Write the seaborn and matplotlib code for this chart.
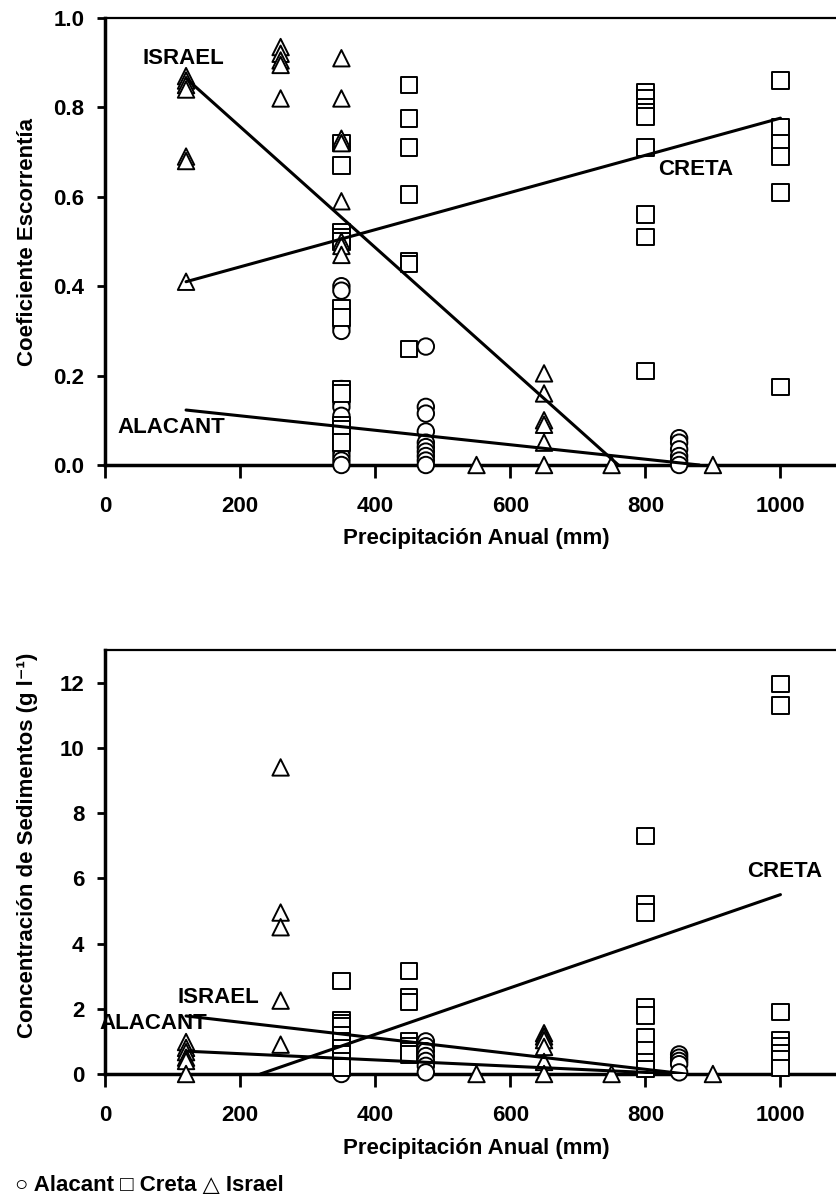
import numpy as np
import pandas as pd
import matplotlib
matplotlib.use('Agg')
import matplotlib.pyplot as plt
import seaborn as sns

# --- Coeficiente de escorrentia (grafico superior) ---
esc_alacant_p = [350, 475, 850]
esc_alacant_v = [
    [0.40, 0.39, 0.31, 0.30, 0.17, 0.16, 0.14, 0.13, 0.11, 0.08, 0.07, 0.06, 0.05, 0.04, 0.03, 0.02, 0.01, 0.0],
    [0.265, 0.13, 0.115, 0.075, 0.05, 0.04, 0.03, 0.02, 0.01, 0.0],
    [0.06, 0.05, 0.035, 0.02, 0.01, 0.0],
]
esc_creta_p = [350, 450, 800, 1000]
esc_creta_v = [
    [0.72, 0.67, 0.52, 0.51, 0.50, 0.35, 0.33, 0.17, 0.16, 0.09, 0.08, 0.05],
    [0.85, 0.775, 0.71, 0.605, 0.455, 0.45, 0.26],
    [0.835, 0.82, 0.80, 0.79, 0.78, 0.71, 0.56, 0.51, 0.21],
    [0.86, 0.755, 0.72, 0.69, 0.61, 0.175],
]
esc_israel_p = [120, 260, 350, 550, 650, 750, 900]
esc_israel_v = [
    [0.87, 0.86, 0.85, 0.84, 0.69, 0.68, 0.41],
    [0.935, 0.92, 0.905, 0.895, 0.82],
    [0.91, 0.82, 0.73, 0.72, 0.59, 0.50, 0.49, 0.47],
    [0.0],
    [0.205, 0.16, 0.10, 0.09, 0.05, 0.0],
    [0.0],
    [0.0],
]
# rectas de tendencia (x inicio/fin, y inicio/fin)
esc_recta_alacant = ([120, 880], [0.123, 0.0])
esc_recta_creta = ([120, 1000], [0.41, 0.776])
esc_recta_israel = ([120, 760], [0.865, 0.0])

# --- Concentracion de sedimentos (grafico inferior) ---
sed_alacant_p = [350, 475, 850]
sed_alacant_v = [
    [1.6, 1.35, 1.15, 1.0, 0.85, 0.7, 0.55, 0.4, 0.3, 0.2, 0.1, 0.0],
    [1.0, 0.85, 0.7, 0.55, 0.4, 0.25, 0.05],
    [0.6, 0.5, 0.4, 0.3, 0.05],
]
sed_creta_p = [350, 450, 800, 1000]
sed_creta_v = [
    [2.85, 1.65, 1.55, 1.45, 1.2, 1.0, 0.8, 0.6, 0.4, 0.2],
    [3.15, 2.35, 2.2, 1.0, 0.85, 0.7, 0.6],
    [7.3, 5.2, 4.95, 2.05, 1.8, 1.13, 0.73, 0.37, 0.15],
    [11.95, 11.3, 1.9, 1.04, 0.85, 0.65, 0.45, 0.18],
]
sed_israel_p = [120, 260, 550, 650, 750, 900]
sed_israel_v = [
    [0.98, 0.8, 0.67, 0.5, 0.4, 0.0],
    [9.4, 4.95, 4.5, 2.25, 0.9],
    [0.0],
    [1.25, 1.15, 1.04, 0.83, 0.37, 0.0],
    [0.0],
    [0.0],
]
sed_recta_alacant = ([120, 850], [0.70, 0.0])
sed_recta_creta = ([230, 1000], [0.0, 5.5])
sed_recta_israel = ([120, 860], [1.78, 0.0])

x_ticks = [0, 200, 400, 600, 800, 1000]
esc_y_ticks = [0.0, 0.2, 0.4, 0.6, 0.8, 1.0]
sed_y_ticks = [0, 2, 4, 6, 8, 10, 12]

marcadores = {'Alacant': 'o', 'Creta': 's', 'Israel': '^'}


def armar_tabla(series):
    filas = []
    for sitio, precs, vals in series:
        for p, lista in zip(precs, vals):
            for v in lista:
                filas.append({'sitio': sitio, 'precip': p, 'valor': v})
    return pd.DataFrame(filas)


df_esc = armar_tabla([('Alacant', esc_alacant_p, esc_alacant_v),
                      ('Creta', esc_creta_p, esc_creta_v),
                      ('Israel', esc_israel_p, esc_israel_v)])
df_sed = armar_tabla([('Alacant', sed_alacant_p, sed_alacant_v),
                      ('Creta', sed_creta_p, sed_creta_v),
                      ('Israel', sed_israel_p, sed_israel_v)])

sns.set_style('ticks')
plt.rcParams['font.family'] = ['Liberation Sans', 'DejaVu Sans']
plt.rcParams['font.weight'] = 'bold'
plt.rcParams['axes.labelweight'] = 'bold'
for k in ['text.color', 'axes.labelcolor', 'xtick.color', 'ytick.color',
          'axes.edgecolor']:
    plt.rcParams[k] = 'black'

fig = plt.figure(figsize=(8.37, 12.04), dpi=100)
W, H = 837, 1204
ax1 = fig.add_axes([105 / W, 1 - 465 / H, 743 / W, 447 / H])
ax2 = fig.add_axes([105 / W, 1 - 1074 / H, 743 / W, 424 / H])


def dibujar(ax, df, rectas, ylim, yticks, yfmt, ylabel, etiquetas, ylab_y, xlab_y):
    for xs, ys in rectas:
        sns.lineplot(x=xs, y=ys, color='black', linewidth=2.2, ax=ax,
                     legend=False, zorder=4)
    sns.scatterplot(data=df, x='precip', y='valor', style='sitio',
                    markers=marcadores, s=140, color='white',
                    edgecolor='black', linewidth=1.4, legend=False,
                    clip_on=False, zorder=3, ax=ax)
    ax.set_xlim(0, 1100)
    ax.set_ylim(*ylim)
    ax.set_xticks(x_ticks)
    ax.set_yticks(yticks)
    ax.set_yticklabels([yfmt.format(t) for t in yticks])
    ax.tick_params(axis='y', direction='out', length=6, width=2, pad=9,
                   labelsize=16)
    ax.tick_params(axis='x', direction='out', length=9, width=2, pad=13,
                   labelsize=16)
    ax.spines['right'].set_visible(False)
    ax.spines['top'].set_linewidth(1.6)
    ax.spines['left'].set_linewidth(2.5)
    ax.spines['bottom'].set_linewidth(2.5)
    ax.set_xlabel('Precipitación Anual (mm)', fontsize=16, fontweight='bold')
    ax.set_ylabel(ylabel, fontsize=16, fontweight='bold')
    ax.xaxis.set_label_coords(0.5, xlab_y)
    ax.yaxis.set_label_coords(-0.09, ylab_y)
    for txt, x, y in etiquetas:
        ax.text(x, y, txt, ha='left', va='center', fontsize=16,
                fontweight='bold', zorder=5, clip_on=False)


dibujar(ax1, df_esc, [esc_recta_alacant, esc_recta_creta, esc_recta_israel],
        (0, 1.0), esc_y_ticks, '{:.1f}', 'Coeficiente Escorrentía',
        [('ISRAEL', 56, 0.91), ('CRETA', 819, 0.66), ('ALACANT', 18, 0.083)],
        0.5, -0.142)
dibujar(ax2, df_sed, [sed_recta_alacant, sed_recta_creta, sed_recta_israel],
        (0, 13), sed_y_ticks, '{:d}', 'Concentración de Sedimentos (g l⁻¹)',
        [('ISRAEL', 108, 2.35), ('CRETA', 951, 6.2), ('ALACANT', -8, 1.55)],
        0.54, -0.15)

fig.text(15 / W, 1 - 1185 / H, '○ Alacant □ Creta △ Israel', ha='left',
         va='center', fontsize=16, fontweight='bold')

fig.savefig('out.png', dpi=100)
